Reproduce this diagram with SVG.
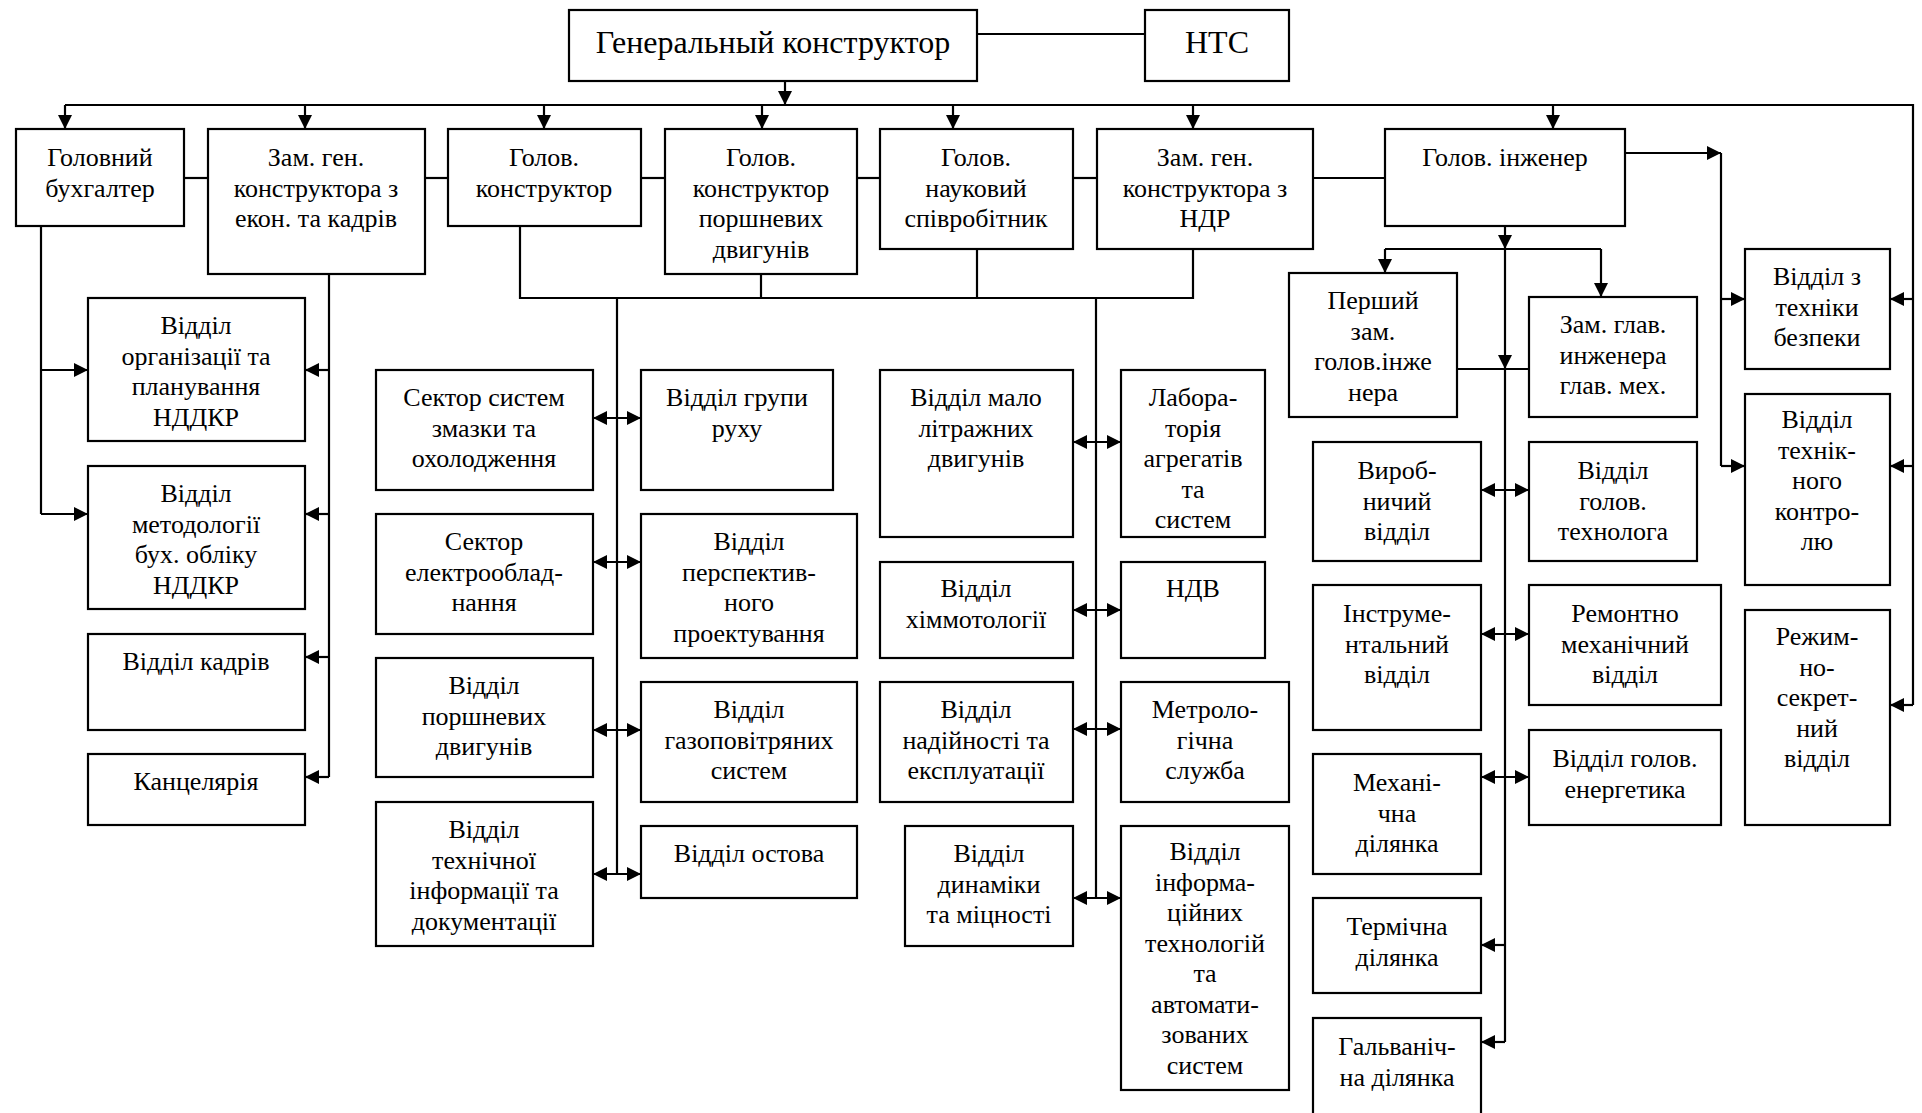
<svg xmlns="http://www.w3.org/2000/svg" width="1922" height="1113" viewBox="0 0 1922 1113">
<style>
rect{fill:#fff;stroke:#000;stroke-width:2.2}
text{font-family:"Liberation Serif","Times New Roman",serif;font-size:26px;fill:#000;text-anchor:middle}
.big{font-size:32px}
#connectors line,#connectors polyline{stroke:#000;stroke-width:2.2;fill:none}
.a{marker-end:url(#ah)}
.d{marker-end:url(#ah);marker-start:url(#ah)}
</style>
<defs>
<marker id="ah" markerUnits="userSpaceOnUse" markerWidth="14" markerHeight="14" refX="14" refY="7" orient="auto-start-reverse" viewBox="0 0 14 14"><path d="M0,0 L14,7 L0,14 z" fill="#000"/></marker>
</defs>
<rect x="0" y="0" width="1922" height="1113" style="stroke:none"/>
<g id="connectors">
<line x1="977" y1="34" x2="1145" y2="34"/>
<line class="a" x1="785" y1="81" x2="785" y2="105"/>
<polyline points="65,105 1913,105 1913,705"/>
<line class="a" x1="65" y1="105" x2="65" y2="129"/>
<line class="a" x1="305" y1="105" x2="305" y2="129"/>
<line class="a" x1="544" y1="105" x2="544" y2="129"/>
<line class="a" x1="762" y1="105" x2="762" y2="129"/>
<line class="a" x1="953" y1="105" x2="953" y2="129"/>
<line class="a" x1="1193" y1="105" x2="1193" y2="129"/>
<line class="a" x1="1553" y1="105" x2="1553" y2="129"/>
<line x1="184" y1="178" x2="208" y2="178"/>
<line x1="425" y1="178" x2="448" y2="178"/>
<line x1="641" y1="178" x2="665" y2="178"/>
<line x1="857" y1="178" x2="880" y2="178"/>
<line x1="1073" y1="178" x2="1097" y2="178"/>
<line x1="1313" y1="178" x2="1385" y2="178"/>
<line x1="41" y1="226" x2="41" y2="514"/>
<line class="a" x1="41" y1="370" x2="88" y2="370"/>
<line class="a" x1="41" y1="514" x2="88" y2="514"/>
<line x1="329" y1="274" x2="329" y2="777"/>
<line class="a" x1="329" y1="370" x2="305" y2="370"/>
<line class="a" x1="329" y1="514" x2="305" y2="514"/>
<line class="a" x1="329" y1="657" x2="305" y2="657"/>
<line class="a" x1="329" y1="777" x2="305" y2="777"/>
<polyline points="520,226 520,298 1193,298 1193,249"/>
<line x1="761" y1="274" x2="761" y2="298"/>
<line x1="977" y1="249" x2="977" y2="298"/>
<line x1="617" y1="298" x2="617" y2="874"/>
<line class="d" x1="593" y1="418" x2="641" y2="418"/>
<line class="d" x1="593" y1="562" x2="641" y2="562"/>
<line class="d" x1="593" y1="730" x2="641" y2="730"/>
<line class="d" x1="593" y1="874" x2="641" y2="874"/>
<line x1="1096" y1="298" x2="1096" y2="898"/>
<line class="d" x1="1073" y1="442" x2="1121" y2="442"/>
<line class="d" x1="1073" y1="610" x2="1121" y2="610"/>
<line class="d" x1="1073" y1="729" x2="1121" y2="729"/>
<line class="d" x1="1073" y1="898" x2="1121" y2="898"/>
<line class="a" x1="1625" y1="153" x2="1721" y2="153"/>
<line x1="1721" y1="153" x2="1721" y2="466"/>
<line class="a" x1="1721" y1="299" x2="1745" y2="299"/>
<line class="a" x1="1721" y1="466" x2="1745" y2="466"/>
<line class="a" x1="1913" y1="299" x2="1890" y2="299"/>
<line class="a" x1="1913" y1="466" x2="1890" y2="466"/>
<line class="a" x1="1913" y1="705" x2="1890" y2="705"/>
<line class="a" x1="1505" y1="226" x2="1505" y2="249"/>
<line x1="1385" y1="249" x2="1601" y2="249"/>
<line class="a" x1="1385" y1="249" x2="1385" y2="273"/>
<line class="a" x1="1601" y1="249" x2="1601" y2="297"/>
<line class="a" x1="1505" y1="249" x2="1505" y2="369"/>
<line x1="1505" y1="369" x2="1505" y2="1042"/>
<line x1="1457" y1="369" x2="1529" y2="369"/>
<line class="d" x1="1481" y1="490" x2="1529" y2="490"/>
<line class="d" x1="1481" y1="634" x2="1529" y2="634"/>
<line class="d" x1="1481" y1="777" x2="1529" y2="777"/>
<line class="a" x1="1505" y1="945" x2="1481" y2="945"/>
<line class="a" x1="1505" y1="1042" x2="1481" y2="1042"/>
</g>
<g id="gen"><rect x="569" y="10" width="408" height="71"/><text class="big" x="773" y="53">Генеральный конструктор</text></g>
<g id="nts"><rect x="1145" y="10" width="144" height="71"/><text class="big" x="1217" y="53">НТС</text></g>
<g id="b1"><rect x="16" y="129" width="168" height="97"/><text x="100" y="166"><tspan x="100">Головний</tspan><tspan x="100" dy="30.5">бухгалтер</tspan></text></g>
<g id="b2"><rect x="208" y="129" width="217" height="145"/><text x="316" y="166"><tspan x="316">Зам. ген.</tspan><tspan x="316" dy="30.5">конструктора з</tspan><tspan x="316" dy="30.5">екон. та кадрів</tspan></text></g>
<g id="b3"><rect x="448" y="129" width="193" height="97"/><text x="544" y="166"><tspan x="544">Голов.</tspan><tspan x="544" dy="30.5">конструктор</tspan></text></g>
<g id="b4"><rect x="665" y="129" width="192" height="145"/><text x="761" y="166"><tspan x="761">Голов.</tspan><tspan x="761" dy="30.5">конструктор</tspan><tspan x="761" dy="30.5">поршневих</tspan><tspan x="761" dy="30.5">двигунів</tspan></text></g>
<g id="b5"><rect x="880" y="129" width="193" height="120"/><text x="976" y="166"><tspan x="976">Голов.</tspan><tspan x="976" dy="30.5">науковий</tspan><tspan x="976" dy="30.5">співробітник</tspan></text></g>
<g id="b6"><rect x="1097" y="129" width="216" height="120"/><text x="1205" y="166"><tspan x="1205">Зам. ген.</tspan><tspan x="1205" dy="30.5">конструктора з</tspan><tspan x="1205" dy="30.5">НДР</tspan></text></g>
<g id="b7"><rect x="1385" y="129" width="240" height="97"/><text x="1505" y="166">Голов. інженер</text></g>
<g id="c1a"><rect x="88" y="298" width="217" height="143"/><text x="196" y="334"><tspan x="196">Відділ</tspan><tspan x="196" dy="30.5">організації та</tspan><tspan x="196" dy="30.5">планування</tspan><tspan x="196" dy="30.5">НДДКР</tspan></text></g>
<g id="c1b"><rect x="88" y="466" width="217" height="143"/><text x="196" y="502"><tspan x="196">Відділ</tspan><tspan x="196" dy="30.5">методології</tspan><tspan x="196" dy="30.5">бух. обліку</tspan><tspan x="196" dy="30.5">НДДКР</tspan></text></g>
<g id="c1c"><rect x="88" y="634" width="217" height="96"/><text x="196" y="670">Відділ кадрів</text></g>
<g id="c1d"><rect x="88" y="754" width="217" height="71"/><text x="196" y="790">Канцелярія</text></g>
<g id="s1"><rect x="376" y="370" width="217" height="120"/><text x="484" y="406"><tspan x="484">Сектор систем</tspan><tspan x="484" dy="30.5">змазки та</tspan><tspan x="484" dy="30.5">охолодження</tspan></text></g>
<g id="s2"><rect x="376" y="514" width="217" height="120"/><text x="484" y="550"><tspan x="484">Сектор</tspan><tspan x="484" dy="30.5">електрооблад-</tspan><tspan x="484" dy="30.5">нання</tspan></text></g>
<g id="s3"><rect x="376" y="658" width="217" height="119"/><text x="484" y="694"><tspan x="484">Відділ</tspan><tspan x="484" dy="30.5">поршневих</tspan><tspan x="484" dy="30.5">двигунів</tspan></text></g>
<g id="s4"><rect x="376" y="802" width="217" height="144"/><text x="484" y="838"><tspan x="484">Відділ</tspan><tspan x="484" dy="30.5">технічної</tspan><tspan x="484" dy="30.5">інформації та</tspan><tspan x="484" dy="30.5">документації</tspan></text></g>
<g id="g1"><rect x="641" y="370" width="192" height="120"/><text x="737" y="406"><tspan x="737">Відділ групи</tspan><tspan x="737" dy="30.5">руху</tspan></text></g>
<g id="g2"><rect x="641" y="514" width="216" height="144"/><text x="749" y="550"><tspan x="749">Відділ</tspan><tspan x="749" dy="30.5">перспектив-</tspan><tspan x="749" dy="30.5">ного</tspan><tspan x="749" dy="30.5">проектування</tspan></text></g>
<g id="g3"><rect x="641" y="682" width="216" height="120"/><text x="749" y="718"><tspan x="749">Відділ</tspan><tspan x="749" dy="30.5">газоповітряних</tspan><tspan x="749" dy="30.5">систем</tspan></text></g>
<g id="g4"><rect x="641" y="826" width="216" height="72"/><text x="749" y="862">Відділ остова</text></g>
<g id="m1"><rect x="880" y="370" width="193" height="167"/><text x="976" y="406"><tspan x="976">Відділ мало</tspan><tspan x="976" dy="30.5">літражних</tspan><tspan x="976" dy="30.5">двигунів</tspan></text></g>
<g id="m2"><rect x="880" y="562" width="193" height="96"/><text x="976" y="597"><tspan x="976">Відділ</tspan><tspan x="976" dy="30.5">хіммотології</tspan></text></g>
<g id="m3"><rect x="880" y="682" width="193" height="120"/><text x="976" y="718"><tspan x="976">Відділ</tspan><tspan x="976" dy="30.5">надійності та</tspan><tspan x="976" dy="30.5">експлуатації</tspan></text></g>
<g id="m4"><rect x="905" y="826" width="168" height="120"/><text x="989" y="862"><tspan x="989">Відділ</tspan><tspan x="989" dy="30.5">динаміки</tspan><tspan x="989" dy="30.5">та міцності</tspan></text></g>
<g id="n1"><rect x="1121" y="370" width="144" height="167"/><text x="1193" y="406"><tspan x="1193">Лабора-</tspan><tspan x="1193" dy="30.5">торія</tspan><tspan x="1193" dy="30.5">агрегатів</tspan><tspan x="1193" dy="30.5">та</tspan><tspan x="1193" dy="30.5">систем</tspan></text></g>
<g id="n2"><rect x="1121" y="562" width="144" height="96"/><text x="1193" y="597">НДВ</text></g>
<g id="n3"><rect x="1121" y="682" width="168" height="120"/><text x="1205" y="718"><tspan x="1205">Метроло-</tspan><tspan x="1205" dy="30.5">гічна</tspan><tspan x="1205" dy="30.5">служба</tspan></text></g>
<g id="n4"><rect x="1121" y="826" width="168" height="264"/><text x="1205" y="860"><tspan x="1205">Відділ</tspan><tspan x="1205" dy="30.5">інформа-</tspan><tspan x="1205" dy="30.5">ційних</tspan><tspan x="1205" dy="30.5">технологій</tspan><tspan x="1205" dy="30.5">та</tspan><tspan x="1205" dy="30.5">автомати-</tspan><tspan x="1205" dy="30.5">зованих</tspan><tspan x="1205" dy="30.5">систем</tspan></text></g>
<g id="p1"><rect x="1289" y="273" width="168" height="144"/><text x="1373" y="309"><tspan x="1373">Перший</tspan><tspan x="1373" dy="30.5">зам.</tspan><tspan x="1373" dy="30.5">голов.інже</tspan><tspan x="1373" dy="30.5">нера</tspan></text></g>
<g id="p2"><rect x="1529" y="297" width="168" height="120"/><text x="1613" y="333"><tspan x="1613">Зам. глав.</tspan><tspan x="1613" dy="30.5">инженера</tspan><tspan x="1613" dy="30.5">глав. мех.</tspan></text></g>
<g id="r1"><rect x="1313" y="442" width="168" height="119"/><text x="1397" y="479"><tspan x="1397">Вироб-</tspan><tspan x="1397" dy="30.5">ничий</tspan><tspan x="1397" dy="30.5">відділ</tspan></text></g>
<g id="r2"><rect x="1529" y="442" width="168" height="119"/><text x="1613" y="479"><tspan x="1613">Відділ</tspan><tspan x="1613" dy="30.5">голов.</tspan><tspan x="1613" dy="30.5">технолога</tspan></text></g>
<g id="r3"><rect x="1313" y="585" width="168" height="145"/><text x="1397" y="622"><tspan x="1397">Інструме-</tspan><tspan x="1397" dy="30.5">нтальний</tspan><tspan x="1397" dy="30.5">відділ</tspan></text></g>
<g id="r4"><rect x="1529" y="585" width="192" height="120"/><text x="1625" y="622"><tspan x="1625">Ремонтно</tspan><tspan x="1625" dy="30.5">механічний</tspan><tspan x="1625" dy="30.5">відділ</tspan></text></g>
<g id="r5"><rect x="1313" y="754" width="168" height="120"/><text x="1397" y="791"><tspan x="1397">Механі-</tspan><tspan x="1397" dy="30.5">чна</tspan><tspan x="1397" dy="30.5">ділянка</tspan></text></g>
<g id="r6"><rect x="1529" y="730" width="192" height="95"/><text x="1625" y="767"><tspan x="1625">Відділ голов.</tspan><tspan x="1625" dy="30.5">енергетика</tspan></text></g>
<g id="r7"><rect x="1313" y="898" width="168" height="95"/><text x="1397" y="935"><tspan x="1397">Термічна</tspan><tspan x="1397" dy="30.5">ділянка</tspan></text></g>
<g id="r8"><rect x="1313" y="1018" width="168" height="110"/><text x="1397" y="1055"><tspan x="1397">Гальваніч-</tspan><tspan x="1397" dy="30.5">на ділянка</tspan></text></g>
<g id="f1"><rect x="1745" y="249" width="145" height="120"/><text x="1817" y="285"><tspan x="1817">Відділ з</tspan><tspan x="1817" dy="30.5">техніки</tspan><tspan x="1817" dy="30.5">безпеки</tspan></text></g>
<g id="f2"><rect x="1745" y="394" width="145" height="191"/><text x="1817" y="428"><tspan x="1817">Відділ</tspan><tspan x="1817" dy="30.5">технік-</tspan><tspan x="1817" dy="30.5">ного</tspan><tspan x="1817" dy="30.5">контро-</tspan><tspan x="1817" dy="30.5">лю</tspan></text></g>
<g id="f3"><rect x="1745" y="610" width="145" height="215"/><text x="1817" y="645"><tspan x="1817">Режим-</tspan><tspan x="1817" dy="30.5">но-</tspan><tspan x="1817" dy="30.5">секрет-</tspan><tspan x="1817" dy="30.5">ний</tspan><tspan x="1817" dy="30.5">відділ</tspan></text></g>
</svg>
